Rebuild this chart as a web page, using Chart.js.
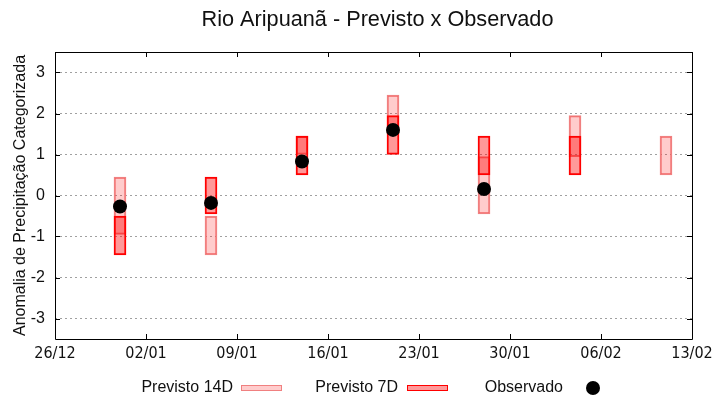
<!DOCTYPE html>
<html><head><meta charset="utf-8">
<script src="https://cdn.jsdelivr.net/npm/chart.js@4.4.1/dist/chart.umd.min.js"></script>
<style>html,body{margin:0;padding:0;background:#fff}</style>
</head><body>
<canvas id="c" width="720" height="400"></canvas>
<script>
// ---- data ----
const tickDays   = [0, 7, 14, 21, 28, 35, 42, 49];
const tickLabels = ['26/12','02/01','09/01','16/01','23/01','30/01','06/02','13/02'];
const forecastDays = [5, 12, 19, 26, 33, 40, 47];           // days after 26/12
const p14Low  = [-0.95, -1.45, 1.0, 1.5, -0.45, 0.95, 0.5];
const p14High = [ 0.45, -0.5, 1.45, 2.45, 0.95, 1.95, 1.45];
const p7Low   = [-1.45, -0.45, 0.5, 1.0, 0.5, 0.5, null];
const p7High  = [-0.5,  0.45, 1.45, 1.95, 1.45, 1.45, null];
const observed = [-0.27, -0.18, 0.83, 1.6, 0.16, null, null];
const yTickValues = [-3, -2, -1, 0, 1, 2, 3];
const titleText = 'Rio Aripuanã - Previsto x Observado';

const FONT = '"Liberation Sans", Arial, sans-serif';
const c14Fill = 'rgba(255,0,0,0.2)', c14Border = '#f08080';
const c7Fill = 'rgba(255,0,0,0.4)', c7Border = '#ff0000';

const range = (lo, hi) => forecastDays.map((d, i) => lo[i] == null ? null : ({x: d, y: [lo[i], hi[i]]})).filter(Boolean);
const obsData = forecastDays.map((d, i) => observed[i] == null ? null : ({x: d, y: observed[i]})).filter(Boolean);

const framePlugin = {
  id: 'frame',
  afterDraw(chart) {
    const {ctx, chartArea: a, scales} = chart;
    ctx.save();
    // title
    ctx.font = '21.7px ' + FONT;
    ctx.fillStyle = '#111';
    ctx.textAlign = 'center';
    ctx.textBaseline = 'middle';
    ctx.fillText(titleText, 377.5, 20);

    ctx.strokeStyle = '#000';
    ctx.lineWidth = 1;
    ctx.beginPath();
    ctx.rect(Math.round(a.left) + 0.5, Math.round(a.top) + 0.5, Math.round(a.right - a.left), Math.round(a.bottom - a.top));
    ctx.stroke();
    const L = 5;
    ctx.beginPath();
    scales.x.ticks.forEach(t => {
      const px = Math.round(scales.x.getPixelForValue(t.value)) + 0.5;
      ctx.moveTo(px, a.bottom); ctx.lineTo(px, a.bottom - L);
      ctx.moveTo(px, a.top); ctx.lineTo(px, a.top + L);
    });
    scales.y.ticks.forEach(t => {
      const py = Math.round(scales.y.getPixelForValue(t.value)) + 0.5;
      ctx.moveTo(a.left, py); ctx.lineTo(a.left + L, py);
      ctx.moveTo(a.right, py); ctx.lineTo(a.right - L, py);
    });
    ctx.stroke();

    // legend (gnuplot style: text then sample)
    ctx.font = '16px ' + FONT;
    ctx.fillStyle = '#111';
    ctx.textAlign = 'right';
    ctx.textBaseline = 'alphabetic';
    const ds = chart.data.datasets;
    const baseY = 392;
    ctx.fillText(ds[0].label, 233, baseY);
    ctx.fillStyle = c14Fill; ctx.fillRect(241, 385, 41, 6);
    ctx.strokeStyle = c14Border; ctx.strokeRect(241.5, 385.5, 40, 5);
    ctx.fillStyle = '#111';
    ctx.fillText(ds[1].label, 398, baseY);
    ctx.fillStyle = c7Fill; ctx.fillRect(407, 385, 41, 6);
    ctx.strokeStyle = c7Border; ctx.strokeRect(407.5, 385.5, 40, 5);
    ctx.fillStyle = '#111';
    ctx.fillText(ds[2].label, 563, baseY);
    ctx.fillStyle = '#000';
    ctx.beginPath(); ctx.arc(593, 388, 7, 0, Math.PI * 2); ctx.fill();
    ctx.restore();
  }
};

new Chart(document.getElementById('c'), {
  type: 'bar',
  data: {
    datasets: [
      {label: 'Previsto 14D', data: range(p14Low, p14High), backgroundColor: c14Fill, borderColor: c14Border,
       borderWidth: 1.3, borderSkipped: false, barThickness: 12, grouped: false, order: 3},
      {label: 'Previsto 7D', data: range(p7Low, p7High), backgroundColor: c7Fill, borderColor: c7Border,
       borderWidth: 1.3, borderSkipped: false, barThickness: 12, grouped: false, order: 2},
      {type: 'scatter', label: 'Observado', data: obsData, backgroundColor: '#000', borderWidth: 0,
       pointRadius: 7, pointHoverRadius: 7, order: 1}
    ]
  },
  options: {
    responsive: false,
    animation: false,
    layout: {padding: {top: 52, right: 28, bottom: 40, left: 0}},
    plugins: {
      legend: {display: false},
      tooltip: {enabled: false},
      title: {display: false}
    },
    scales: {
      x: {
        type: 'linear', min: 0, max: 49, offset: false,
        grid: {display: false, offset: false, drawTicks: false},
        border: {display: false},
        afterBuildTicks: s => { s.ticks = tickDays.map(v => ({value: v})); },
        afterFit: s => { s.height = 21; },
        ticks: {color: '#111', padding: 5, autoSkip: false, maxRotation: 0,
                font: {family: '"Liberation Sans Narrow", "DejaVu Sans Condensed", ' + FONT, size: 16},
                callback: v => tickLabels[tickDays.indexOf(v)]}
      },
      y: {
        min: -3.5, max: 3.5,
        afterBuildTicks: s => { s.ticks = yTickValues.map(v => ({value: v})); },
        afterFit: s => { s.width = 55; },
        grid: {color: '#a0a0a0', lineWidth: 1, drawTicks: false},
        border: {display: false, dash: [2, 3]},
        ticks: {color: '#111', padding: 10, font: {family: FONT, size: 16}},
        title: {display: true, text: 'Anomalia de Precipitação Categorizada', color: '#111',
                font: {family: FONT, size: 16}, padding: {top: 11, bottom: 0}}
      }
    }
  },
  plugins: [framePlugin]
});
</script>
</body></html>
